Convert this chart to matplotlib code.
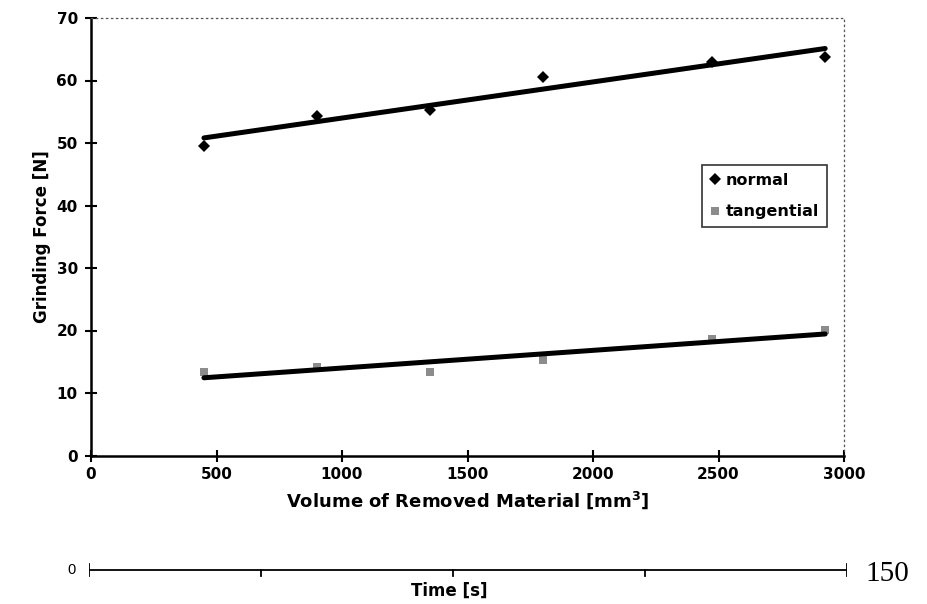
import numpy as np
import matplotlib
matplotlib.use("Agg")
import matplotlib.pyplot as plt

plt.rcParams['font.family'] = ['DejaVu Sans']

# measured grinding forces vs removed volume
volume = [450, 900, 1350, 1800, 2475, 2925]
force_normal = [49.6, 54.3, 55.3, 60.5, 63.0, 63.8]
force_tangential = [13.4, 14.2, 13.4, 15.3, 18.6, 20.1]

x_ticks = [0, 500, 1000, 1500, 2000, 2500, 3000]
y_ticks = [0, 10, 20, 30, 40, 50, 60, 70]

# secondary time scale (ticks as drawn on the original sheet)
time_ticks = [0, 34, 72, 110, 150]

fig = plt.figure(figsize=(9.27, 6.04), dpi=100)
W, H = 927, 604

# main plot area
ax = fig.add_axes([91 / W, 1 - 455.5 / H, (844 - 91) / W, (455.5 - 18) / H])

vol = np.array(volume, dtype=float)
for y, mk, col, ms, lab in [
    (force_normal, 'D', 'black', 6.5, 'normal'),
    (force_tangential, 's', '#8c8c8c', 6, 'tangential'),
]:
    y = np.array(y)
    ax.plot(vol, y, linestyle='none', marker=mk, color=col, markersize=ms,
            markeredgewidth=0, label=lab, zorder=3)
    k, b = np.polyfit(vol, y, 1)
    ax.plot([vol[0], vol[-1]], [k * vol[0] + b, k * vol[-1] + b],
            color='black', lw=3.6, solid_capstyle='round', zorder=4)

ax.set_xlim(0, 3000)
ax.set_ylim(0, 70)
ax.set_xticks(x_ticks)
ax.set_yticks(y_ticks)
ax.tick_params(direction='inout', length=9, width=1.5, labelsize=11)
ax.tick_params(axis='x', pad=4)
ax.tick_params(axis='y', pad=5)
for t in ax.get_xticklabels() + ax.get_yticklabels():
    t.set_fontweight('bold')

for s in ['left', 'bottom']:
    ax.spines[s].set_linewidth(1.8)
for s in ['top', 'right']:
    ax.spines[s].set_linewidth(0.9)
    ax.spines[s].set_linestyle((0, (1, 3)))
    ax.spines[s].set_color('#555555')

ax.set_xlabel('Volume of Removed Material [mm$^\\mathbf{3}$]', fontsize=13,
              fontweight='bold', labelpad=5)
ax.set_ylabel('Grinding Force [N]', fontsize=12, fontweight='bold', labelpad=4)

leg = ax.legend(loc='upper right', bbox_to_anchor=(0.977, 0.665), borderaxespad=0,
                frameon=True, fancybox=False, edgecolor='black', handlelength=0.6,
                handletextpad=0.35, borderpad=0.5, labelspacing=1.05,
                prop={'size': 11.5, 'weight': 'bold'})
leg.get_frame().set_linewidth(1.2)

# time axis drawn below the volume axis
line_y = 570
tax = fig.add_axes([89 / W, 1 - (line_y + 8) / H, (847 - 89) / W, 16 / H])
tax.set_xlim(time_ticks[0], time_ticks[-1])
tax.set_ylim(-1, 1)
tax.axis('off')
tax.plot([time_ticks[0], time_ticks[-1]], [0, 0], color='black', lw=1.3)
for i, t in enumerate(time_ticks):
    if i == 0 or i == len(time_ticks) - 1:
        tax.plot([t, t], [-0.7, 0.7], color='black', lw=1.3)
    else:
        tax.plot([t, t], [-0.7, 0], color='black', lw=1.3)

fig.text(72 / W, 1 - line_y / H, str(time_ticks[0]), fontsize=10.5,
         family='Liberation Sans', ha='center', va='center')
fig.text(865 / W, 1 - (line_y + 4) / H, str(time_ticks[-1]), fontsize=21,
         family='Liberation Serif', ha='left', va='center')
fig.text(449 / W, 1 - 591 / H, 'Time [s]', fontsize=12, fontweight='bold',
         ha='center', va='center')

fig.savefig('out.png', dpi=100)
